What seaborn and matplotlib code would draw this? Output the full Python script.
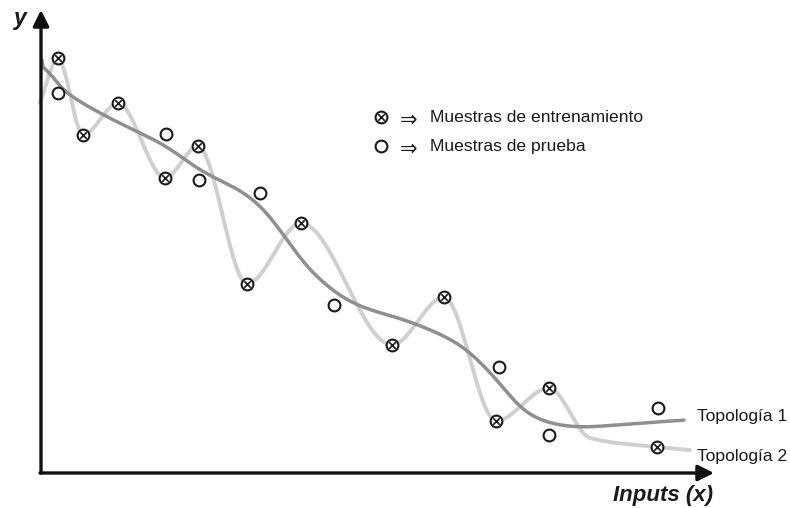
import numpy as np
import pandas as pd
import matplotlib
matplotlib.use("Agg")
import matplotlib.pyplot as plt
import seaborn as sns

# =========================
# DATA (origin = where the two axes cross)
# =========================
train_x = [17, 42, 77, 124, 157, 206, 260, 351, 403, 455, 508, 616]
train_y = [415, 338, 370, 295, 327, 189, 250, 128, 176, 52, 85, 26]

test_x = [17, 125, 158, 219, 293, 458, 508, 617]
test_y = [380, 339, 293, 280, 168, 106, 38, 65]

# Topologia 2: wiggly curve through the training samples
topo2_x = [-1, 17, 42, 77, 124, 157, 206, 260, 351, 403, 455, 508, 549, 616, 649]
topo2_y = [370, 415, 338, 370, 295, 327, 189, 250, 128, 176, 52, 85, 35, 26, 23]

# Topologia 1: smooth general trend
topo1_x = [1, 14, 26, 59, 126, 159, 206, 226, 246, 269, 312, 372, 419, 456, 482, 509, 539, 589, 643]
topo1_y = [413, 391, 380, 360, 326, 303, 278, 260, 233, 203, 170, 150, 128, 93, 63, 50, 46, 49, 53]

curve_labels = ["Topología 1", "Topología 2"]
legend_labels = ["Muestras de entrenamiento", "Muestras de prueba"]


def pchip(xk, yk, n=650):
    # shape preserving cubic, only to draw the lines smooth
    xk = np.asarray(xk, float)
    yk = np.asarray(yk, float)
    h = np.diff(xk)
    d = np.diff(yk) / h
    m = np.zeros_like(yk)
    for k in range(1, len(xk) - 1):
        if d[k - 1] * d[k] > 0:
            w1 = 2 * h[k] + h[k - 1]
            w2 = h[k] + 2 * h[k - 1]
            m[k] = (w1 + w2) / (w1 / d[k - 1] + w2 / d[k])
    m[0] = d[0]
    m[-1] = d[-1]
    xs = np.linspace(xk[0], xk[-1], n)
    idx = np.clip(np.searchsorted(xk, xs) - 1, 0, len(h) - 1)
    t = (xs - xk[idx]) / h[idx]
    h00 = 2 * t**3 - 3 * t**2 + 1
    h10 = t**3 - 2 * t**2 + t
    h01 = -2 * t**3 + 3 * t**2
    h11 = t**3 - t**2
    ys = h00 * yk[idx] + h10 * h[idx] * m[idx] + h01 * yk[idx + 1] + h11 * h[idx] * m[idx + 1]
    return xs, ys


def soften(ys, w):
    # small moving average so the drawn line has no kinks
    pad = np.pad(ys, w, mode="edge")
    k = np.ones(2 * w + 1) / (2 * w + 1)
    out = np.convolve(pad, k, mode="valid")
    out[0], out[-1] = ys[0], ys[-1]
    return out


sns.set_style("white")
plt.rcParams["font.family"] = ["Liberation Sans", "DejaVu Sans"]

fig = plt.figure(figsize=(7.9, 5.08), dpi=100)
ax = fig.add_axes([0, 0, 1, 1])

# =========================
# CURVES
# =========================
x2, y2 = pchip(topo2_x, topo2_y)
x1, y1 = pchip(topo1_x, topo1_y)
y2 = soften(y2, 3)
y1 = soften(y1, 14)
sns.lineplot(x=x2, y=y2, sort=False, estimator=None, color="#cfcfcf", lw=2.8, ax=ax, zorder=2)
sns.lineplot(x=x1, y=y1, sort=False, estimator=None, color="#8f8f8f", lw=2.5, ax=ax, zorder=3)

# =========================
# SAMPLES
# =========================
train_df = pd.DataFrame({"x": train_x, "y": train_y})
test_df = pd.DataFrame({"x": test_x, "y": test_y})

sns.scatterplot(data=test_df, x="x", y="y", marker="o", s=72, facecolor="white",
                edgecolor="#1a1a1a", linewidth=1.5, ax=ax, zorder=5)
sns.scatterplot(data=train_df, x="x", y="y", marker="o", s=72, facecolor="white",
                edgecolor="#1a1a1a", linewidth=1.5, ax=ax, zorder=5)
sns.scatterplot(data=train_df, x="x", y="y", marker="x", s=22, color="#1a1a1a",
                linewidth=1.2, ax=ax, zorder=6)

# legend drawn by hand like in the figure
ax.scatter([340, 340], [356, 327], marker="o", s=72, facecolor="white",
           edgecolor="#1a1a1a", linewidth=1.5, zorder=5)
ax.scatter([340], [356], marker="x", s=22, color="#1a1a1a", linewidth=1.2, zorder=6)
for yy, lab in zip([356, 327], legend_labels):
    ax.text(359, yy - 3, "⇒", fontsize=15, va="center", ha="left",
            family=["DejaVu Sans"], color="#1a1a1a")
    ax.text(389, yy - 1, lab, fontsize=12.6, va="center", ha="left", color="#1a1a1a")

ax.text(656, 57, curve_labels[0], fontsize=12.6, va="center", ha="left", color="#1a1a1a")
ax.text(656, 17, curve_labels[1], fontsize=12.6, va="center", ha="left", color="#1a1a1a")

# =========================
# AXES WITH ARROWS
# =========================
arrow = dict(arrowstyle="-|>", color="#111111", lw=2.4, mutation_scale=24, shrinkA=0, shrinkB=0)
ax.annotate("", xy=(0, 463), xytext=(0, 0), arrowprops=arrow)
ax.annotate("", xy=(673, 0), xytext=(-1, 0), arrowprops=arrow)

ax.text(-21, 454, "y", fontsize=16.5, fontweight="bold", fontstyle="italic",
        ha="center", va="center", color="#1a1a1a")
ax.text(622, -23, "Inputs (x)", fontsize=16, fontweight="bold", fontstyle="italic",
        ha="center", va="center", color="#1a1a1a")

ax.set_xlim(-41, 749)
ax.set_ylim(-35, 473)
ax.axis("off")

plt.savefig("out.png", dpi=100)
plt.close()
